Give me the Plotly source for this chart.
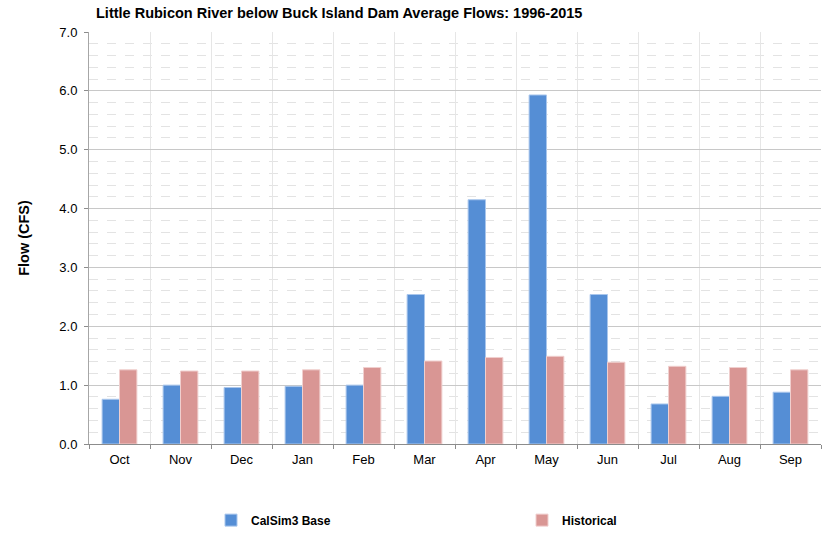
import plotly.graph_objects as go

months = ["Oct", "Nov", "Dec", "Jan", "Feb", "Mar", "Apr", "May", "Jun", "Jul", "Aug", "Sep"]
calsim3_base = [0.76, 1.00, 0.96, 0.98, 1.00, 2.54, 4.15, 5.93, 2.54, 0.68, 0.81, 0.88]
historical = [1.26, 1.24, 1.24, 1.26, 1.30, 1.41, 1.47, 1.49, 1.39, 1.32, 1.30, 1.26]
y_ticks = [0, 1, 2, 3, 4, 5, 6, 7]

FONT = "Liberation Sans, Arial, sans-serif"

fig = go.Figure()
fig.add_trace(go.Bar(
    x=months, y=calsim3_base, name="<b>CalSim3 Base</b>", legend="legend",
    marker=dict(color="#558ED5", line=dict(color="#A9C6EC", width=1)),
))
fig.add_trace(go.Bar(
    x=months, y=historical, name="<b>Historical</b>", legend="legend2",
    marker=dict(color="#D99694", line=dict(color="#F0CFCE", width=1)),
))

legend_style = dict(
    orientation="h", xref="container", yref="container",
    xanchor="left", yanchor="middle", y=0.026,
    font=dict(family=FONT, size=12, color="#000000"),
    bgcolor="rgba(0,0,0,0)",
)

fig.update_layout(
    width=824, height=534,
    margin=dict(l=89, r=3, t=32, b=90),
    paper_bgcolor="white", plot_bgcolor="white",
    font=dict(family=FONT, size=13, color="#000000"),
    title=dict(
        text="<b>Little Rubicon River below Buck Island Dam Average Flows: 1996-2015</b>",
        x=0, xref="paper", xanchor="left", y=0.985, yanchor="top",
        font=dict(family=FONT, size=14.5, color="#000000"),
        pad=dict(l=7),
    ),
    barmode="group", bargap=0.43, bargroupgap=0,
    showlegend=True,
    legend=dict(legend_style, x=(241 - 30) / 824),
    legend2=dict(legend_style, x=(552 - 30) / 824),
)

fig.update_xaxes(
    type="category", tickson="boundaries",
    showline=True, linecolor="#8c8c8c", linewidth=1,
    ticks="outside", ticklen=4, tickcolor="#8c8c8c",
    ticklabelstandoff=3,
    showgrid=True, gridcolor="#e6e6e6", gridwidth=1,
    tickfont=dict(family=FONT, size=13, color="#000000"),
)

fig.update_yaxes(
    range=[0, 7], tickvals=y_ticks, ticktext=[f"{v:.1f}" for v in y_ticks],
    showline=True, linecolor="#a6a6a6", linewidth=1,
    ticks="outside", ticklen=4, tickcolor="#8c8c8c",
    ticklabelstandoff=4,
    showgrid=True, gridcolor="#c8c8c8", gridwidth=1,
    minor=dict(dtick=0.2, showgrid=True, gridcolor="#e3e3e3", griddash="dash", gridwidth=1),
    zeroline=False,
    tickfont=dict(family=FONT, size=13, color="#000000"),
    title=dict(text="<b>Flow (CFS)</b>", font=dict(family=FONT, size=14.5, color="#000000"), standoff=26),
)

fig.write_html("out.html")
